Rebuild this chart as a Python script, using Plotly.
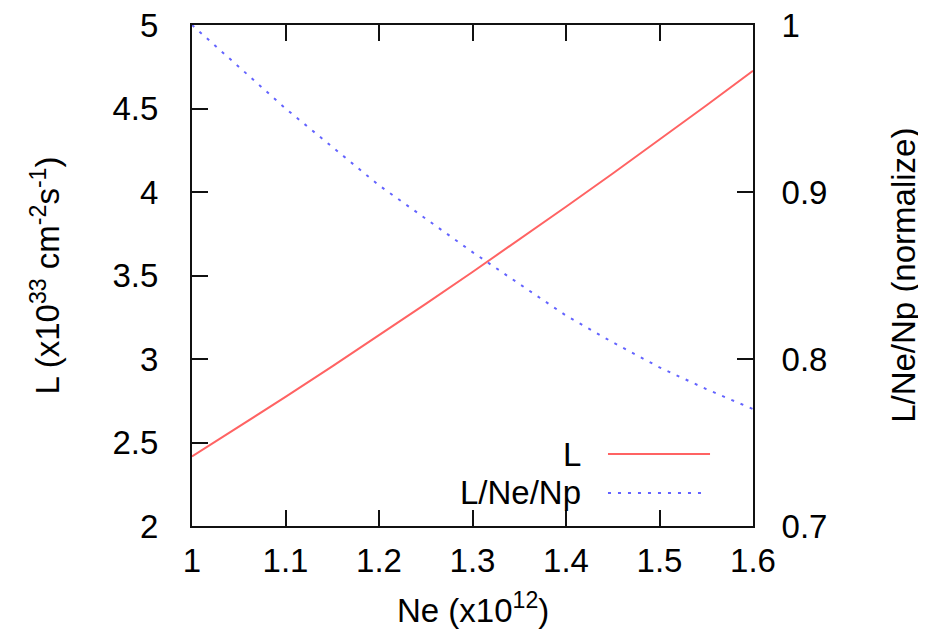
import plotly.graph_objects as go

ne = [1.0, 1.05, 1.1, 1.15, 1.2, 1.25, 1.3, 1.35, 1.4, 1.45, 1.5, 1.55, 1.6]
lumi = [2.416, 2.593, 2.773, 2.956, 3.142, 3.330, 3.521, 3.715, 3.912, 4.111, 4.313, 4.518, 4.726]
lumi_norm = [1.000, 0.975, 0.950, 0.927, 0.904, 0.884, 0.864, 0.845, 0.826, 0.810, 0.795, 0.782, 0.770]

legend_labels = ["L", "L/Ne/Np"]
red = "#ff6363"
blue = "#6363ff"
FONT = "Liberation Sans, Arial, Helvetica, sans-serif"
FS = 33

fig = go.Figure()
fig.add_trace(go.Scatter(x=ne, y=lumi, mode="lines", name=legend_labels[0],
                         line=dict(color=red, width=2), yaxis="y", cliponaxis=False))
fig.add_trace(go.Scatter(x=ne, y=lumi_norm, mode="lines", name=legend_labels[1],
                         line=dict(color=blue, width=2, dash="3px,7px"), yaxis="y2",
                         cliponaxis=False))

axis_common = dict(showline=True, linecolor="#111", linewidth=2, ticks="inside",
                   ticklen=16, tickwidth=2, tickcolor="#111", showgrid=False, zeroline=False,
                   ticklabeloverflow="allow", automargin=False,
                   tickfont=dict(family=FONT, size=FS, color="#000"))

fig.update_layout(
    width=918, height=621,
    margin=dict(l=184, r=173, t=17, b=103),
    paper_bgcolor="white", plot_bgcolor="white",
    showlegend=False,
    font=dict(family=FONT, size=FS, color="#000"),
    xaxis=dict(range=[1, 1.6], dtick=0.1, tick0=1, mirror="ticks",
               ticklabelstandoff=4, **axis_common),
    yaxis=dict(range=[2, 5], dtick=0.5, tick0=2, ticklabelstandoff=25, **axis_common),
    yaxis2=dict(range=[0.7, 1.0], dtick=0.1, tick0=0.7, overlaying="y", side="right",
                ticklabelstandoff=20, **axis_common),
)

# axis titles
fig.add_annotation(text="L (x10<sup>33</sup> cm<sup>-2</sup>s<sup>-1</sup>)", textangle=-90,
                   xref="paper", yref="paper", x=-0.262, y=0.5, showarrow=False,
                   xanchor="center", yanchor="middle", font=dict(family=FONT, size=FS))
fig.add_annotation(text="L/Ne/Np (normalize)", textangle=-90,
                   xref="paper", yref="paper", x=1.268, y=0.5, showarrow=False,
                   xanchor="center", yanchor="middle", font=dict(family=FONT, size=FS))
fig.add_annotation(text="Ne (x10<sup>12</sup>)",
                   xref="paper", yref="paper", x=0.5, y=-0.2096, showarrow=False,
                   xanchor="center", yanchor="bottom", font=dict(family=FONT, size=FS))

# gnuplot-style legend: text then sample line
leg_y = [0.1437, 0.0659]
leg_x1 = [0.9234, 0.9127]
styles = [dict(color=red, width=2), dict(color=blue, width=2, dash="3px,7px")]
for lab, yy, x1, st in zip(legend_labels, leg_y, leg_x1, styles):
    fig.add_annotation(text=lab, xref="paper", yref="paper", x=0.697, y=yy,
                       showarrow=False, xanchor="right", yanchor="middle",
                       font=dict(family=FONT, size=FS))
    fig.add_shape(type="line", xref="paper", yref="paper", x0=0.7415, x1=x1,
                  y0=yy, y1=yy, line=st)

fig.write_html("out.html")
